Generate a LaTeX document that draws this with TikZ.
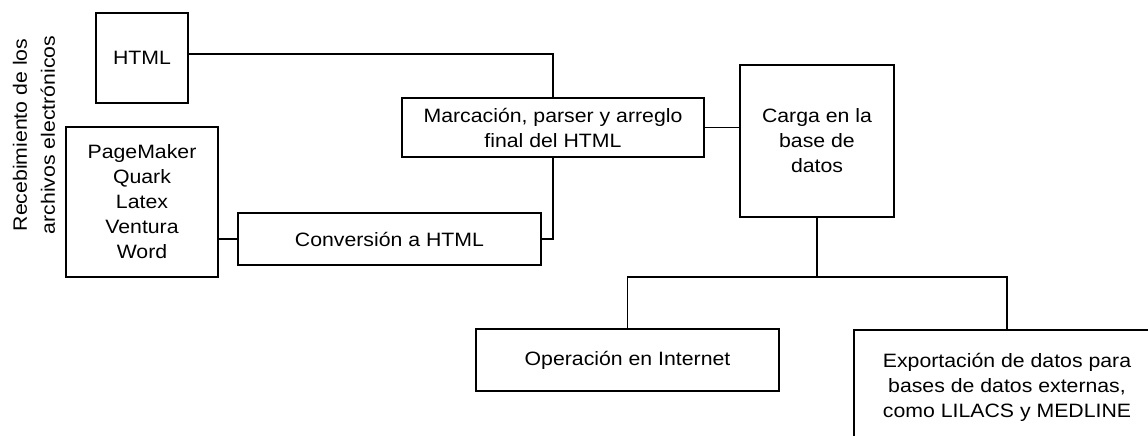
\documentclass[tikz,border=0pt]{standalone}
\usepackage{fontspec}
\setmainfont[FakeStretch=1.1]{Liberation Sans}
\usetikzlibrary{positioning}

\begin{document}
\begin{tikzpicture}[
    x=0.75pt, y=-0.75pt,
    every node/.style={align=center},
    box/.style={rectangle, draw, line width=0.9pt, inner sep=0pt, font=\fontsize{14.5}{18.75}\selectfont},
    link/.style={line width=0.9pt},
    sidelabel/.style={rotate=90, inner sep=0pt, font=\fontsize{14.5}{21}\selectfont}
]
    \clip (0,0) rectangle (1148,435);
    \fill[white] (0,0) rectangle (1148,435);

    % Side label
    \node[sidelabel] (reception) at (34,135) {Recebimiento de los\\archivos electrónicos};

    % Input boxes
    \node[box, minimum width=92*0.75pt, minimum height=90*0.75pt] (html) at (142,58) {HTML};
    \node[box, minimum width=152*0.75pt, minimum height=150*0.75pt] (sources) at (142,202) {PageMaker\\Quark\\Latex\\Ventura\\Word};

    % Processing boxes
    \node[box, minimum width=303*0.75pt, minimum height=52*0.75pt] (conversion) at (389.5,239) {Conversión a HTML};
    \node[box, minimum width=302*0.75pt, minimum height=59*0.75pt] (markup) at (553,127.5) {Marcación, parser y arreglo\\final del HTML};
    \node[box, minimum width=154*0.75pt, minimum height=152*0.75pt] (load) at (817,141) {Carga en la\\base de\\datos};

    % Output boxes
    \node[box, minimum width=303*0.75pt, minimum height=62*0.75pt] (internet) at (627.5,360) {Operación en Internet};
    \node[box, minimum width=306*0.75pt, minimum height=114*0.75pt] (export) at (1007,387) {Exportación de datos para\\bases de datos externas,\\como LILACS y MEDLINE};

    \coordinate (split) at (817,277);

    % Connections
    \draw[link] ([yshift=3pt]html.east) -| (markup.north);
    \draw[link] (conversion.west) -- (conversion.west -| sources.east);
    \draw[link] (conversion.east) -| (markup.south);
    \draw[link] (markup.east) -- (markup.east -| load.west);
    \draw[link] (load.south) -- (split);
    \draw[link] (split) -| (internet.north);
    \draw[link] (split) -| (export.north);
\end{tikzpicture}
\end{document}
